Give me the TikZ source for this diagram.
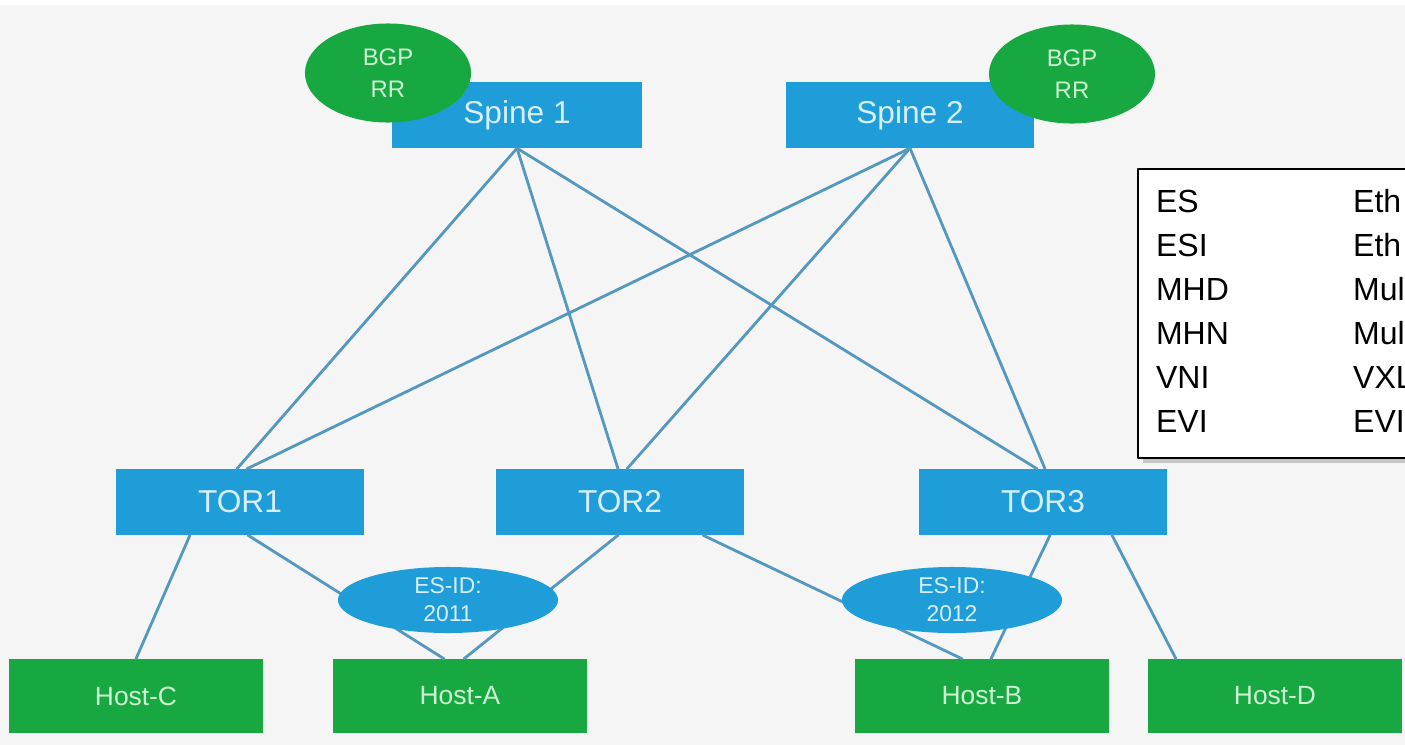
\documentclass[tikz,border=0pt]{standalone}
\usepackage{fontspec}
\setmainfont{Liberation Sans}
\usetikzlibrary{shapes.geometric,shadows}
\definecolor{ciscoblue}{RGB}{30,157,217}
\definecolor{ciscogreen}{RGB}{24,168,66}
\definecolor{linkblue}{RGB}{84,152,192}
\definecolor{bggray}{RGB}{245,245,245}
\definecolor{bluetext}{RGB}{214,239,250}
\definecolor{greentext}{RGB}{205,243,210}
\begin{document}
\begin{tikzpicture}[x=0.01cm,y=-0.01cm,line join=round,line cap=round,
	switch/.style={fill=ciscoblue,text=bluetext,minimum height=0.65cm,inner sep=0pt,font=\fontsize{9pt}{10pt}\selectfont},
	host/.style={fill=ciscogreen,text=greentext,minimum width=2.53cm,minimum height=0.73cm,inner sep=0pt,font=\fontsize{7.5pt}{9pt}\selectfont},
	rr/.style={ellipse,fill=ciscogreen,text=greentext,minimum width=1.66cm,minimum height=0.99cm,inner sep=0pt,align=center,font=\fontsize{6.8pt}{9pt}\selectfont},
	esid/.style={ellipse,fill=ciscoblue,text=bluetext,minimum width=2.2cm,minimum height=0.66cm,inner sep=0pt,align=center,font=\fontsize{6.5pt}{8pt}\selectfont},
	link/.style={draw=linkblue,line width=0.8pt}]
	\useasboundingbox (0,0) rectangle (1405,745);
	\clip (0,0) rectangle (1405,745);
	\fill[white] (0,0) rectangle (1405,745);
	\fill[bggray] (0,5) rectangle (1405,745);
	% spines
	\node[switch,minimum width=2.49cm] (spine1) at (517,115) {Spine 1};
	\node[switch,minimum width=2.47cm] (spine2) at (910,115) {Spine 2};
	\node[rr] (rr1) at (388,73) {BGP\\RR};
	\node[rr] (rr2) at (1072,74) {BGP\\RR};
	% tors
	\node[switch,minimum width=2.47cm] (tor1) at (240,502) {TOR1};
	\node[switch,minimum width=2.47cm] (tor2) at (620,502) {TOR2};
	\node[switch,minimum width=2.47cm] (tor3) at (1043,502) {TOR3};
	% hosts
	\node[host] (hostc) at (136,696) {Host-C};
	\node[host] (hosta) at (460,696) {Host-A};
	\node[host] (hostb) at (982,696) {Host-B};
	\node[host] (hostd) at (1275,696) {Host-D};
	% spine links
	\draw[link] (spine1.south) -- ([xshift=-0.03cm]tor1.north);
	\draw[link] (spine1.south) -- ([xshift=-0.02cm]tor2.north);
	\draw[link] (spine1.south) -- ([xshift=-0.06cm]tor3.north);
	\draw[link] (spine2.south) -- ([xshift=0.07cm]tor1.north);
	\draw[link] (spine2.south) -- ([xshift=0.07cm]tor2.north);
	\draw[link] (spine2.south) -- ([xshift=0.02cm]tor3.north);
	% host links
	\draw[link] ([xshift=-0.5cm]tor1.south) -- (hostc.north);
	\draw[link] ([xshift=0.08cm]tor1.south) -- ([xshift=-0.16cm]hosta.north);
	\draw[link] ([xshift=-0.02cm]tor2.south) -- ([xshift=0.04cm]hosta.north);
	\draw[link] ([xshift=0.83cm]tor2.south) -- ([xshift=-0.2cm]hostb.north);
	\draw[link] ([xshift=0.07cm]tor3.south) -- ([xshift=0.09cm]hostb.north);
	\draw[link] ([xshift=0.69cm]tor3.south) -- ([xshift=-0.99cm]hostd.north);
	% ethernet segments
	\node[esid] (es2011) at (448,600) {ES-ID:\\2011};
	\node[esid] (es2012) at (952,600) {ES-ID:\\2012};
	% legend
	\node[draw=black,line width=0.6pt,fill=white,
		drop shadow={shadow xshift=0.05cm,shadow yshift=-0.05cm,opacity=0.4},
		anchor=north west,text width=2.6cm,inner xsep=0.18cm,inner ysep=0.122cm,
		minimum height=2.89cm,font=\fontsize{9.1pt}{12.5pt}\selectfont] (legend) at (1137,168)
		{\begin{tabular}{@{}p{1.97cm}@{}l@{}}
			ES & Eth\\
			ESI & Eth\\
			MHD & Mul\\
			MHN & Mul\\
			VNI & VXL\\
			EVI & EVI
		\end{tabular}};
\end{tikzpicture}
\end{document}
